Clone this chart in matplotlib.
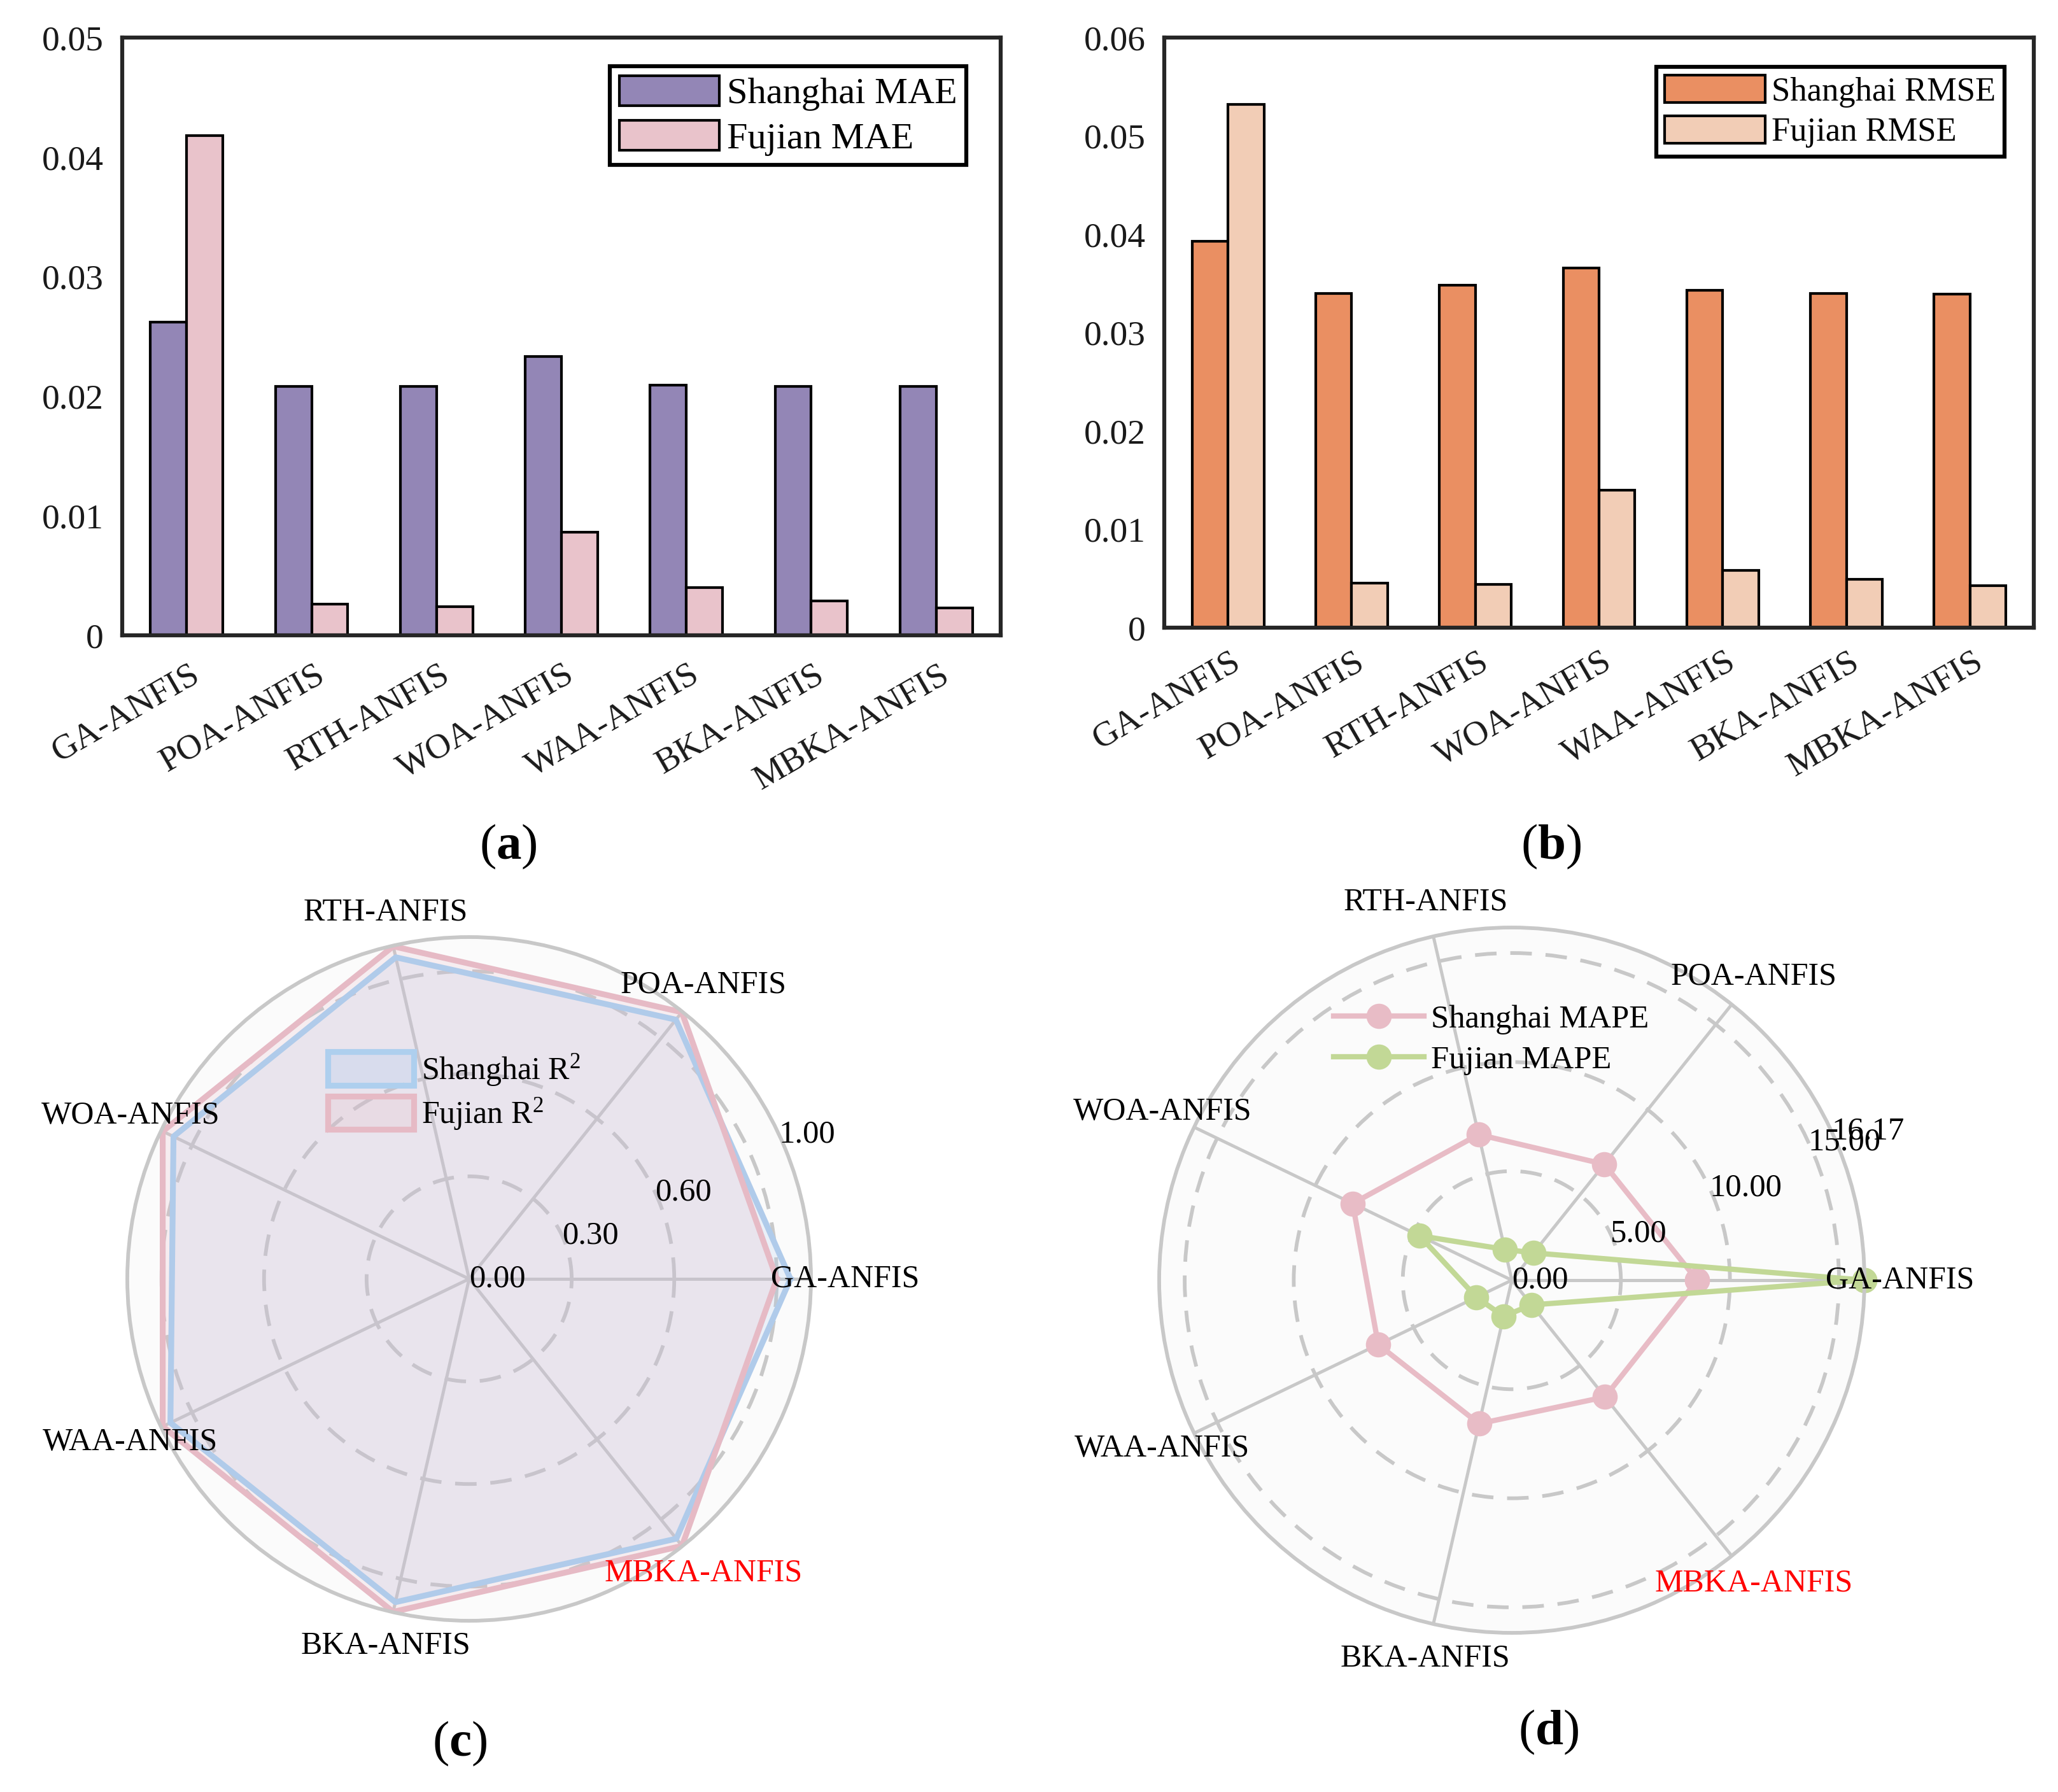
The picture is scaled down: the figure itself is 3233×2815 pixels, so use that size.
import numpy as np
import matplotlib
matplotlib.use('Agg')
import matplotlib.pyplot as plt
from matplotlib.patches import Patch
from matplotlib.lines import Line2D
from matplotlib.colors import to_rgba
from matplotlib.transforms import ScaledTranslation

plt.rcParams['font.family'] = ['Liberation Serif', 'DejaVu Serif']
plt.rcParams['mathtext.fontset'] = 'custom'
plt.rcParams['mathtext.rm'] = 'Liberation Serif'
plt.rcParams['mathtext.it'] = 'Liberation Serif:italic'
plt.rcParams['mathtext.bf'] = 'Liberation Serif:bold'

# ---------------- data ----------------
models = ['GA-ANFIS', 'POA-ANFIS', 'RTH-ANFIS', 'WOA-ANFIS', 'WAA-ANFIS', 'BKA-ANFIS', 'MBKA-ANFIS']
shanghai_mae = [0.0262, 0.0208, 0.0208, 0.0233, 0.0209, 0.0208, 0.0208]
fujian_mae = [0.0418, 0.0026, 0.0024, 0.0086, 0.0040, 0.0029, 0.0023]
shanghai_rmse = [0.0393, 0.0340, 0.0348, 0.0366, 0.0343, 0.0340, 0.0339]
fujian_rmse = [0.0532, 0.0045, 0.0044, 0.0140, 0.0058, 0.0049, 0.0043]
shanghai_r2 = [0.94, 0.97, 0.965, 0.96, 0.97, 0.97, 0.972]
fujian_r2 = [0.90, 0.998, 0.998, 0.995, 0.995, 0.999, 0.999]
shanghai_mape = [8.5, 6.8, 6.85, 8.1, 6.8, 6.75, 6.85]
fujian_mape = [16.17, 1.6, 1.45, 4.7, 1.8, 1.7, 1.45]

bar_yticks_a = [0, 0.01, 0.02, 0.03, 0.04, 0.05]
bar_ylabels_a = ['0', '0.01', '0.02', '0.03', '0.04', '0.05']
bar_yticks_b = [0, 0.01, 0.02, 0.03, 0.04, 0.05, 0.06]
bar_ylabels_b = ['0', '0.01', '0.02', '0.03', '0.04', '0.05', '0.06']
r2_grid = [0.3, 0.6, 0.9]
r2_ticks = [0, 0.3, 0.6, 1.0]
r2_ticklabels = ['0.00', '0.30', '0.60', '1.00']
mape_grid = [5, 10, 15]
mape_ticks = [0, 5, 10, 15, 16.17]
mape_ticklabels = ['0.00', '5.00', '10.00', '15.00', '16.17']

W, H = 3233, 2815
fig = plt.figure(figsize=(W / 300, H / 300), dpi=300)

SPINE = '#262626'
GRID = '#c8c8c8'


def bar_panel(rect, s_vals, f_vals, c_s, c_f, lab_s, lab_f, yt, yl, ymax,
              leg_anchor, leg_fs, leg_hl, pad):
    ax = fig.add_axes(rect)
    x = np.arange(len(models))
    w = 0.29
    ax.bar(x - w / 2, s_vals, w, color=c_s, edgecolor='black', linewidth=1.0)
    ax.bar(x + w / 2, f_vals, w, color=c_f, edgecolor='black', linewidth=1.0)
    ax.set_xlim(-0.516, len(models) - 1 + 0.516)
    ax.set_ylim(0, ymax)
    ax.set_yticks(yt)
    ax.set_yticklabels(yl)
    ax.set_xticks(x)
    ax.set_xticklabels(models, rotation=30, ha='right', va='center', rotation_mode='anchor')
    ax.tick_params(axis='both', length=0, labelsize=13.3, colors='#1a1a1a')
    ax.tick_params(axis='y', pad=7)
    ax.tick_params(axis='x', pad=pad)
    shift = ScaledTranslation(16 / 300, 0, fig.dpi_scale_trans)
    for lab in ax.get_xticklabels():
        lab.set_transform(lab.get_transform() + shift)
    for sp in ax.spines.values():
        sp.set_color(SPINE)
        sp.set_linewidth(1.5)
    handles = [Patch(facecolor=c_s, edgecolor='black', linewidth=1.0),
               Patch(facecolor=c_f, edgecolor='black', linewidth=1.0)]
    leg = ax.legend(handles, [lab_s, lab_f], loc='upper right', bbox_to_anchor=leg_anchor,
                    fontsize=leg_fs, frameon=True, fancybox=False, edgecolor='black',
                    framealpha=1, handlelength=leg_hl, handleheight=0.87, labelspacing=0.25,
                    borderpad=0.25, handletextpad=0.2, borderaxespad=0)
    leg.get_frame().set_linewidth(1.5)
    return ax


bar_panel([192 / W, 1 - 998 / H, (1572 - 192) / W, (998 - 59) / H],
          shanghai_mae, fujian_mae, '#9386b6', '#e9c3cb', 'Shanghai MAE', 'Fujian MAE',
          bar_yticks_a, bar_ylabels_a, 0.05, (0.961, 0.952), 14, 2.7, 14)
bar_panel([1829 / W, 1 - 986 / H, (3195 - 1829) / W, (986 - 59) / H],
          shanghai_rmse, fujian_rmse, '#ea8f62', '#f2cdb6', 'Shanghai RMSE', 'Fujian RMSE',
          bar_yticks_b, bar_ylabels_b, 0.06, (0.966, 0.950), 12.6, 3.0, 12)

angles = np.linspace(0, 2 * np.pi, len(models), endpoint=False)
ang_closed = np.concatenate([angles, angles[:1]])
RLAB_ANGLE = np.deg2rad(25)


def polar_base(cx, cy, R, ymax, grid_r, ticks, ticklabels):
    ax = fig.add_axes([(cx - R) / W, 1 - (cy + R) / H, 2 * R / W, 2 * R / H], projection='polar')
    ax.set_facecolor('#fbfbfb')
    ax.set_ylim(0, ymax)
    ax.set_xticks(angles)
    ax.set_xticklabels([])
    ax.set_yticks(grid_r)
    ax.set_yticklabels([])
    ax.tick_params(axis='both', length=0)
    ax.yaxis.grid(True, color=GRID, linestyle=(0, (5.8, 3.7)), linewidth=1.4)
    ax.xaxis.grid(True, color=GRID, linestyle='-', linewidth=1.2)
    ax.spines['polar'].set_color(GRID)
    ax.spines['polar'].set_linewidth(1.4)
    ax.set_axisbelow(True)
    for r, t in zip(ticks, ticklabels):
        ax.text(RLAB_ANGLE, r, t, ha='left', va='center', fontsize=12.2, color='black',
                clip_on=False, zorder=5)
    for a, m in zip(angles, models):
        ax.text(a, ymax * 1.1, m, ha='center', va='center', fontsize=12,
                color='red' if m == 'MBKA-ANFIS' else 'black', clip_on=False)
    return ax


# ---------------- (c) R2 radar ----------------
blue = '#b0cbea'
pink = '#e6bac5'
axc = polar_base(737, 2009, 537, 1.0, r2_grid, r2_ticks, r2_ticklabels)
sh_c = np.concatenate([shanghai_r2, shanghai_r2[:1]])
fu_c = np.concatenate([fujian_r2, fujian_r2[:1]])
axc.fill(ang_closed, sh_c, color='#a9c8ee', alpha=0.2, linewidth=0)
axc.fill(ang_closed, fu_c, color='#e5b8c4', alpha=0.2, linewidth=0)
axc.plot(ang_closed, sh_c, color=blue, linewidth=2.2)
axc.plot(ang_closed, fu_c, color=pink, linewidth=2.2)
hc = [Patch(facecolor=to_rgba('#a9c8ee', 0.25), edgecolor='#aecfee', linewidth=2.2),
      Patch(facecolor=to_rgba('#e5b8c4', 0.2), edgecolor=pink, linewidth=2.2)]
axc.legend(hc, ['Shanghai R$^2$', 'Fujian R$^2$'], loc='upper left',
           bbox_to_anchor=(515 / W, 1 - 1652 / H), bbox_transform=fig.transFigure,
           frameon=False, fontsize=12, handlelength=2.7, handleheight=1.24,
           labelspacing=0.25, borderpad=0, handletextpad=0.25, borderaxespad=0)

# ---------------- (d) MAPE radar ----------------
pink_d = '#e8bcc6'
green_d = '#c2d896'
axd = polar_base(2375, 2011, 554, 16.17, mape_grid, mape_ticks, mape_ticklabels)
sh_d = np.concatenate([shanghai_mape, shanghai_mape[:1]])
fu_d = np.concatenate([fujian_mape, fujian_mape[:1]])
axd.plot(ang_closed, sh_d, color=pink_d, linewidth=2, marker='o', markersize=8.5, clip_on=False)
axd.plot(ang_closed, fu_d, color=green_d, linewidth=2, marker='o', markersize=8.5, clip_on=False)
hd = [Line2D([], [], color=pink_d, linewidth=2, marker='o', markersize=8.5),
      Line2D([], [], color=green_d, linewidth=2, marker='o', markersize=8.5)]
axd.legend(hd, ['Shanghai MAPE', 'Fujian MAPE'], loc='upper left',
           bbox_to_anchor=(2095 / W, 1 - 1578 / H), bbox_transform=fig.transFigure,
           frameon=False, fontsize=12.2, handlelength=2.8, labelspacing=0.35,
           borderpad=0, handletextpad=0.2, borderaxespad=0)

# ---------------- panel labels ----------------
fig.text(798 / W, 1 - 1330 / H, r'($\mathbf{a}$)', ha='center', va='center', fontsize=19)
fig.text(2437 / W, 1 - 1330 / H, r'($\mathbf{b}$)', ha='center', va='center', fontsize=19)
fig.text(722 / W, 1 - 2739 / H, r'($\mathbf{c}$)', ha='center', va='center', fontsize=19)
fig.text(2433 / W, 1 - 2721 / H, r'($\mathbf{d}$)', ha='center', va='center', fontsize=19)

fig.savefig('out.png', dpi=300, facecolor='white')
